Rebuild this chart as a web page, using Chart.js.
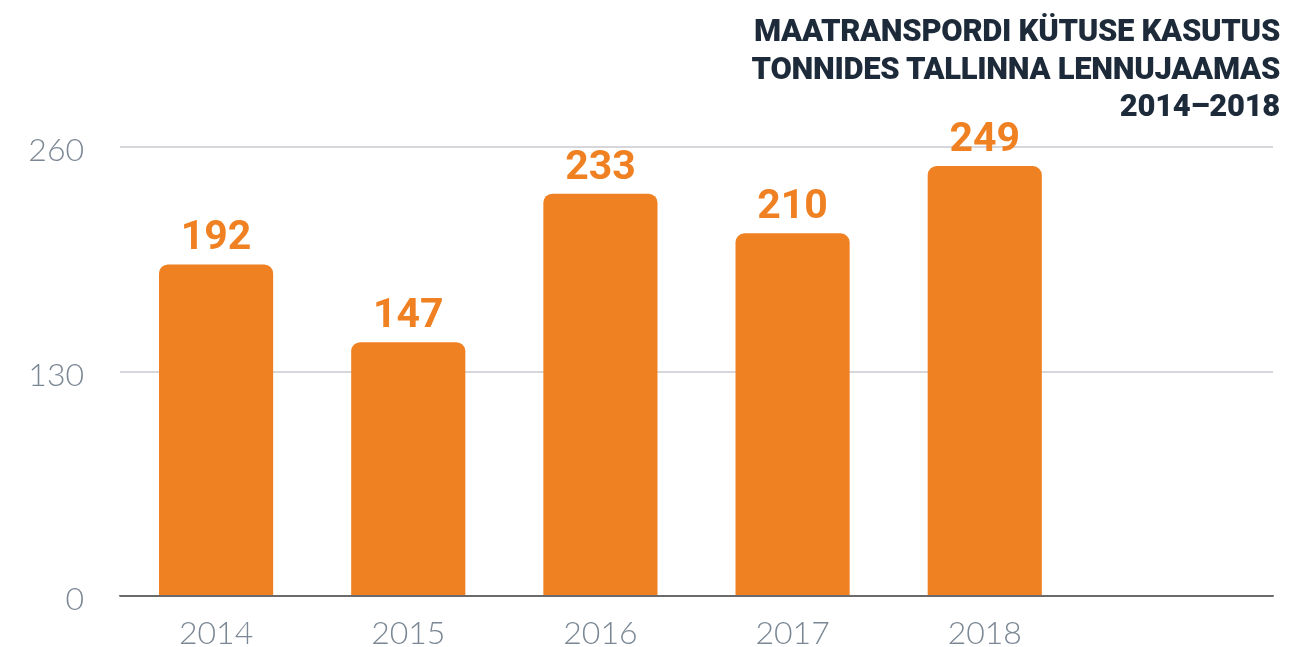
<!DOCTYPE html>
<html>
<head>
<meta charset="utf-8">
<script src="https://cdn.jsdelivr.net/npm/chart.js@4"></script>
<style>
  html, body { margin: 0; padding: 0; background: #fff; }
  #wrap { position: relative; width: 1316px; height: 647px; }
  #title {
    position: absolute; right: 36px; top: 12px;
    font-family: "Roboto", sans-serif;
    font-weight: 900; font-size: 31px; line-height: 37.5px;
    color: #1d2a3a; text-align: right; letter-spacing: -0.3px;
  }
</style>
</head>
<body>
<div id="wrap">
  <canvas id="myChart" width="1316" height="647"></canvas>
  <div id="title">MAATRANSPORDI KÜTUSE KASUTUS<br>TONNIDES TALLINNA LENNUJAAMAS<br>2014–2018</div>
</div>
<script>
const years = ['2014', '2015', '2016', '2017', '2018', ''];
const fuel = [192, 147, 233, 210, 249, null];
const yTicks = [0, 130, 260];

// value labels above the bars
const barLabels = {
  id: 'barLabels',
  afterDatasetsDraw(chart) {
    const ctx = chart.ctx;
    const meta = chart.getDatasetMeta(0);
    ctx.save();
    ctx.font = 'bold 41px Roboto';
    ctx.fillStyle = '#f08122';
    ctx.textAlign = 'center';
    ctx.textBaseline = 'alphabetic';
    meta.data.forEach((bar, i) => {
      if (fuel[i] == null) return;
      ctx.fillText(String(fuel[i]), bar.x, bar.y - 15);
    });
    ctx.restore();
  }
};

const data = {
  labels: years,
  datasets: [{
    data: fuel,
    backgroundColor: '#f08122',
    borderRadius: { topLeft: 9, topRight: 9 },
    borderSkipped: 'bottom',
    barPercentage: 0.594,
    categoryPercentage: 1
  }]
};

const config = {
  type: 'bar',
  data,
  options: {
    responsive: false,
    animation: false,
    layout: { padding: { top: 147, right: 43, left: 0, bottom: 0 } },
    plugins: { legend: { display: false }, tooltip: { enabled: false } },
    scales: {
      x: {
        grid: { display: false, drawTicks: false },
        border: { display: true, color: '#6b6b6b', width: 1.5 },
        ticks: { color: '#7b8794', font: { family: 'Lato', size: 32, weight: 300 }, padding: 18 },
        afterFit(s) { s.height = 51; }
      },
      y: {
        min: 0,
        max: 260,
        afterBuildTicks(s) { s.ticks = yTicks.map(v => ({ value: v })); },
        grid: {
          drawTicks: false,
          color: ctx => ctx.tick && ctx.tick.value === 0 ? '#6b6b6b' : '#d6d6db',
          lineWidth: 2
        },
        border: { display: false },
        ticks: { color: '#7b8794', font: { family: 'Lato', size: 32, weight: 300 }, padding: 36, labelOffset: 4 },
        afterFit(s) { s.width = 120; s.paddingTop = 0; s.paddingBottom = 0; }
      }
    }
  },
  plugins: [barLabels]
};

const myChart = new Chart(document.getElementById('myChart'), config);
</script>
</body>
</html>
